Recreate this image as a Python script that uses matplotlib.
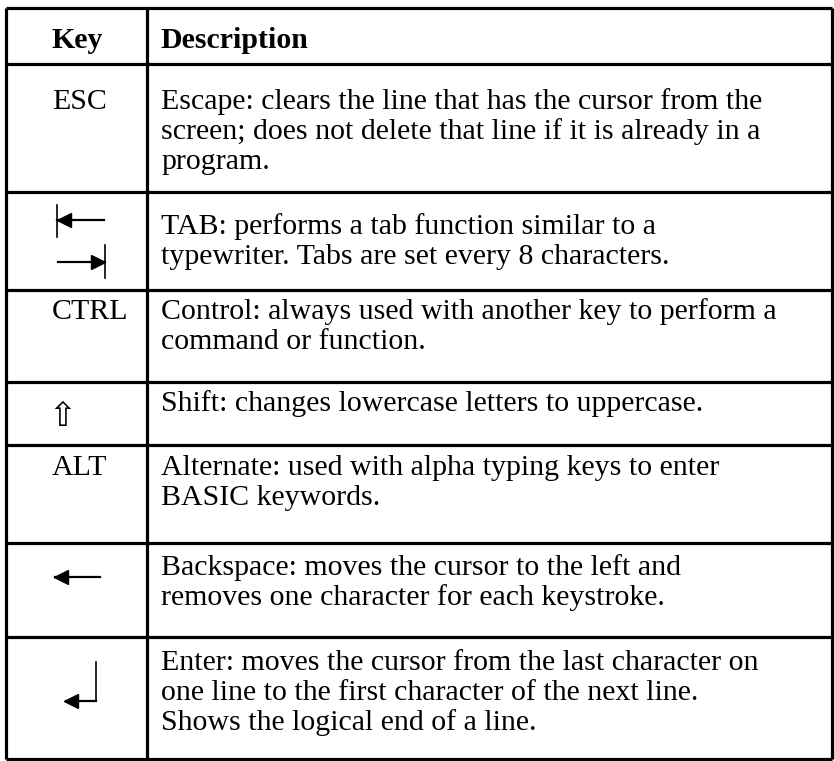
import matplotlib
matplotlib.use("Agg")
import matplotlib.pyplot as plt

# table content
header = ["Key", "Description"]
keys = ["ESC", "tab", "CTRL", "shift", "ALT", "backspace", "enter"]
descriptions = [
    ["Escape: clears the line that has the cursor from the",
     "screen; does not delete that line if it is already in a",
     "program."],
    ["TAB: performs a tab function similar to a",
     "typewriter. Tabs are set every 8 characters."],
    ["Control: always used with another key to perform a",
     "command or function."],
    ["Shift: changes lowercase letters to uppercase."],
    ["Alternate: used with alpha typing keys to enter",
     "BASIC keywords."],
    ["Backspace: moves the cursor to the left and",
     "removes one character for each keystroke."],
    ["Enter: moves the cursor from the last character on",
     "one line to the first character of the next line.",
     "Shows the logical end of a line."],
]

# row boundaries (pixels from top)
row_edges = [8, 64, 192, 290, 382, 445, 543, 637, 759]
x_left, x_div, x_right = 6, 147, 832
line_gap = 30
font = "Liberation Serif"
fs = 21.5

fig = plt.figure(figsize=(8.34, 7.61), dpi=100)
ax = fig.add_axes([0, 0, 1, 1])
ax.set_xlim(0, 834)
ax.set_ylim(761, 0)
ax.axis("off")

lw = 2.3
for y in row_edges:
    ax.plot([x_left, x_right], [y, y], color="black", lw=lw, solid_capstyle="butt")
for x in [x_left, x_div, x_right]:
    ax.plot([x, x], [row_edges[0], row_edges[-1]], color="black", lw=lw, solid_capstyle="butt")

kx = 52
dx = 161

# header
ax.text(kx, 41, header[0], ha="left", va="center", fontsize=fs, fontweight="bold", family=font)
ax.text(dx, 41, header[1], ha="left", va="center", fontsize=fs, fontweight="bold", family=font)

first_line_y = [102, 227, 312, 404, 468, 568, 663]

for key, lines, y0 in zip(keys, descriptions, first_line_y):
    for i, ln in enumerate(lines):
        ax.text(dx, y0 + i * line_gap, ln, ha="left", va="center", fontsize=fs, family=font)
    if key in ("ESC", "CTRL", "ALT"):
        ax.text(kx, y0, key, ha="left", va="center", fontsize=fs, family=font)
    elif key == "shift":
        ax.text(62, 417, "\u21e7", ha="center", va="center", fontsize=24, family="DejaVu Sans")
    elif key == "tab":
        ax.plot([57, 104], [220, 220], color="black", lw=1.6)
        ax.plot([57, 57], [205, 237], color="black", lw=1.2)
        ax.plot([64], [220], marker="<", color="black", ms=10)
        ax.plot([58, 105], [262, 262], color="black", lw=1.6)
        ax.plot([105, 105], [245, 278], color="black", lw=1.2)
        ax.plot([98], [262], marker=">", color="black", ms=10)
    elif key == "backspace":
        ax.plot([55, 100], [577, 577], color="black", lw=1.6)
        ax.plot([61], [577], marker="<", color="black", ms=10)
    elif key == "enter":
        ax.plot([96, 96], [662, 701], color="black", lw=1.2)
        ax.plot([66, 96], [701, 701], color="black", lw=1.6)
        ax.plot([71], [701], marker="<", color="black", ms=10)

fig.savefig("out.png", dpi=100, facecolor="white")
